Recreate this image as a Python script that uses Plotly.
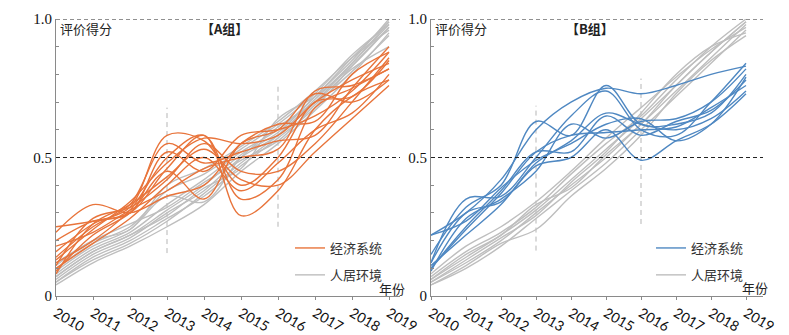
import plotly.graph_objects as go

years = [2010, 2011, 2012, 2013, 2014, 2015, 2016, 2017, 2018, 2019]
year_labels = [str(y) for y in years]

# Panel A - economic system (orange)
econ_a = [
    [0.25, 0.27, 0.30, 0.46, 0.58, 0.29, 0.38, 0.60, 0.72, 0.78],
    [0.23, 0.33, 0.30, 0.36, 0.40, 0.55, 0.62, 0.63, 0.80, 0.88],
    [0.16, 0.26, 0.32, 0.58, 0.56, 0.40, 0.50, 0.70, 0.72, 0.85],
    [0.14, 0.25, 0.33, 0.55, 0.48, 0.52, 0.56, 0.58, 0.75, 0.90],
    [0.12, 0.20, 0.31, 0.50, 0.58, 0.35, 0.42, 0.68, 0.75, 0.82],
    [0.09, 0.22, 0.30, 0.45, 0.35, 0.55, 0.60, 0.73, 0.70, 0.78],
    [0.11, 0.28, 0.32, 0.42, 0.55, 0.45, 0.45, 0.55, 0.70, 0.86],
    [0.13, 0.24, 0.34, 0.48, 0.57, 0.55, 0.58, 0.70, 0.78, 0.84],
    [0.10, 0.19, 0.28, 0.40, 0.50, 0.38, 0.48, 0.60, 0.66, 0.80],
    [0.20, 0.27, 0.30, 0.52, 0.45, 0.58, 0.60, 0.65, 0.74, 0.88],
    [0.08, 0.26, 0.33, 0.43, 0.53, 0.42, 0.40, 0.52, 0.64, 0.76],
    [0.18, 0.23, 0.31, 0.38, 0.46, 0.50, 0.53, 0.74, 0.76, 0.82],
]
# Panel A - living environment (gray)
env_a = [
    [0.04, 0.12, 0.18, 0.25, 0.33, 0.45, 0.55, 0.67, 0.80, 0.95],
    [0.05, 0.14, 0.20, 0.28, 0.36, 0.47, 0.57, 0.68, 0.83, 0.97],
    [0.06, 0.15, 0.21, 0.30, 0.38, 0.50, 0.58, 0.70, 0.84, 0.98],
    [0.07, 0.16, 0.22, 0.31, 0.40, 0.51, 0.59, 0.72, 0.85, 1.00],
    [0.08, 0.17, 0.23, 0.33, 0.42, 0.52, 0.60, 0.72, 0.86, 0.99],
    [0.09, 0.18, 0.24, 0.36, 0.34, 0.50, 0.61, 0.70, 0.82, 0.90],
    [0.10, 0.19, 0.25, 0.38, 0.44, 0.53, 0.62, 0.73, 0.87, 0.98],
    [0.11, 0.20, 0.24, 0.40, 0.46, 0.54, 0.63, 0.74, 0.86, 0.96],
    [0.12, 0.20, 0.26, 0.32, 0.41, 0.49, 0.56, 0.69, 0.81, 0.94],
    [0.05, 0.13, 0.19, 0.27, 0.37, 0.48, 0.58, 0.71, 0.84, 0.99],
    [0.07, 0.16, 0.22, 0.29, 0.39, 0.46, 0.64, 0.72, 0.83, 0.97],
]
# Panel B - economic system (blue)
econ_b = [
    [0.22, 0.30, 0.42, 0.60, 0.70, 0.75, 0.73, 0.76, 0.80, 0.83],
    [0.15, 0.32, 0.40, 0.63, 0.58, 0.76, 0.62, 0.62, 0.66, 0.80],
    [0.12, 0.35, 0.36, 0.50, 0.65, 0.74, 0.60, 0.58, 0.70, 0.84],
    [0.10, 0.25, 0.38, 0.52, 0.52, 0.65, 0.58, 0.63, 0.67, 0.78],
    [0.09, 0.28, 0.35, 0.45, 0.62, 0.57, 0.63, 0.64, 0.70, 0.82],
    [0.11, 0.22, 0.33, 0.48, 0.56, 0.66, 0.62, 0.60, 0.64, 0.74],
    [0.12, 0.30, 0.34, 0.47, 0.50, 0.60, 0.49, 0.56, 0.62, 0.73],
    [0.10, 0.24, 0.37, 0.52, 0.58, 0.59, 0.60, 0.61, 0.68, 0.76],
    [0.22, 0.27, 0.39, 0.49, 0.55, 0.62, 0.64, 0.56, 0.62, 0.79],
]
# Panel B - living environment (gray)
env_b = [
    [0.04, 0.10, 0.18, 0.28, 0.38, 0.48, 0.60, 0.72, 0.84, 0.96],
    [0.05, 0.12, 0.20, 0.30, 0.40, 0.50, 0.62, 0.74, 0.86, 0.98],
    [0.06, 0.14, 0.22, 0.31, 0.42, 0.53, 0.64, 0.76, 0.88, 0.99],
    [0.07, 0.16, 0.23, 0.32, 0.44, 0.55, 0.65, 0.78, 0.90, 1.00],
    [0.08, 0.18, 0.25, 0.34, 0.45, 0.57, 0.68, 0.79, 0.89, 0.97],
    [0.04, 0.11, 0.19, 0.24, 0.36, 0.46, 0.58, 0.73, 0.85, 0.94],
    [0.05, 0.13, 0.21, 0.29, 0.41, 0.52, 0.66, 0.80, 0.90, 0.95],
    [0.06, 0.15, 0.22, 0.33, 0.39, 0.51, 0.62, 0.76, 0.88, 0.99],
]

y_ticks = [0, 0.5, 1.0]
y_tick_labels = ["0", "0.5", "1.0"]
name_econ = "经济系统"
name_env = "人居环境"

ORANGE = "#E8743B"
BLUE = "#4F88C2"
GRAY = "#BEBEBE"
CJK = "Noto Sans CJK SC"
SERIF = "Liberation Serif"
SANS = "Lato"

# page body has an 8px margin: lay out in window pixels, shifted by the offset
OFF = 8
W, H = 789 - OFF, 335 - OFF
def px(x):
    return (x - OFF) / W
def py(y):
    return 1 - (y - OFF) / H

fig = go.Figure()

def add_group(series, color, name, xa, ya, legend, group, rank):
    for i, s in enumerate(series):
        fig.add_trace(go.Scatter(
            x=years, y=s, mode="lines", xaxis=xa, yaxis=ya,
            line=dict(color=color, width=1.4, shape="spline", smoothing=1.0),
            name=name, legend=legend, legendgroup=group, showlegend=(i == 0),
            legendrank=rank, hoverinfo="skip"))

# draw gray first so colored on top
add_group(env_a, GRAY, name_env, "x", "y", "legend", "envA", 2)
add_group(econ_a, ORANGE, name_econ, "x", "y", "legend", "ecoA", 1)
add_group(env_b, GRAY, name_env, "x2", "y2", "legend2", "envB", 2)
add_group(econ_b, BLUE, name_econ, "x2", "y2", "legend2", "ecoB", 1)

ydom = [py(296), py(19)]
xdomA = [px(56), px(400)]
xdomB = [px(431), px(763)]
xrA = [2010, 2010 + (400 - 56) / 37.0]
xrB = [2010, 2010 + (763 - 431) / 35.0]

def xaxis(dom, rng, anchor):
    return dict(domain=dom, range=rng, anchor=anchor, tickmode="array",
                tickvals=years, ticktext=year_labels, tickangle=30,
                showline=True, linecolor="#8a8a8a", linewidth=1,
                ticks="outside", ticklen=3, tickcolor="#8a8a8a",
                showgrid=False, zeroline=False, automargin=False,
                tickfont=dict(family=SANS, size=14, color="#111"))

def yaxis(anchor):
    return dict(domain=ydom, range=[0, 1.0], anchor=anchor, tickmode="array",
                tickvals=y_ticks, ticktext=y_tick_labels,
                showline=True, linecolor="#8a8a8a", linewidth=1,
                ticks="inside", ticklen=3, tickcolor="#8a8a8a",
                minor=dict(dtick=0.1, ticks="inside", ticklen=3, tickcolor="#8a8a8a"),
                showgrid=False, zeroline=False, automargin=False,
                tickfont=dict(family=SERIF, size=15, color="#111"))

shapes = []
for xr, yr in (("x", "y"), ("x2", "y2")):
    for yv in (0.5, 1.0):
        shapes.append(dict(type="line", xref=xr + " domain", yref=yr, x0=0, x1=1,
                           y0=yv, y1=yv, line=dict(color="#222", width=1, dash="4px,3px")))
vlines = [("x", "y", 2013, 0.155, 0.68), ("x", "y", 2016, 0.25, 0.77),
          ("x2", "y2", 2013, 0.164, 0.687), ("x2", "y2", 2016, 0.26, 0.785)]
for xr, yr, xv, y0, y1 in vlines:
    shapes.append(dict(type="line", xref=xr, yref=yr, x0=xv, x1=xv, y0=y0, y1=y1,
                       line=dict(color="#b5b5b5", width=1, dash="5px,4px"), layer="below"))

annotations = []
def ann(text, x, y, size=13, bold=False, xanchor="left"):
    annotations.append(dict(text=("<b>%s</b>" % text) if bold else text,
                            xref="paper", yref="paper", x=px(x), y=py(y),
                            xanchor=xanchor, yanchor="middle", showarrow=False,
                            font=dict(family=CJK, size=size, color="#222")))
ann("评价得分", 58, 28)
ann("【A组】", 224, 28, bold=True, xanchor="center")
ann("评价得分", 433, 28)
ann("【B组】", 590, 28, bold=True, xanchor="center")
ann("年份", 377, 288)
ann("年份", 740, 287)

def legend(x, y):
    return dict(x=px(x), y=py(y), xanchor="left", yanchor="top",
                bgcolor="rgba(0,0,0,0)", traceorder="grouped",
                font=dict(family=CJK, size=13, color="#333"),
                tracegroupgap=7, itemwidth=30)

fig.update_layout(
    width=W, height=H, margin=dict(l=0, r=0, t=0, b=0),
    paper_bgcolor="white", plot_bgcolor="white",
    xaxis=xaxis(xdomA, xrA, "y"), yaxis=yaxis("x"),
    xaxis2=xaxis(xdomB, xrB, "y2"), yaxis2=yaxis("x2"),
    shapes=shapes, annotations=annotations,
    legend=legend(290, 233), legend2=legend(651, 233),
    showlegend=True,
)

fig.write_html("out.html")
